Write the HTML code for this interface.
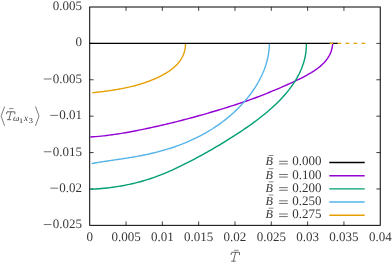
<!DOCTYPE html>
<html><head><meta charset="utf-8"><title>plot</title>
<style>html,body{margin:0;padding:0;background:#fff;}body{width:392px;height:262px;overflow:hidden;font-family:"Liberation Serif",serif;}</style>
</head><body>
<svg width="392" height="262" viewBox="0 0 392 262" style="display:block;will-change:transform">
<rect width="392" height="262" fill="#fff"/>
<g fill="none" stroke="#000" stroke-width="1">
<rect x="89.70" y="7.00" width="290.55" height="218.35"/>
<path stroke-width="0.75" d="M126.02 225.35 v-3.90 M126.02 7.00 v3.90"/>
<path stroke-width="0.75" d="M162.34 225.35 v-3.90 M162.34 7.00 v3.90"/>
<path stroke-width="0.75" d="M198.66 225.35 v-3.90 M198.66 7.00 v3.90"/>
<path stroke-width="0.75" d="M234.98 225.35 v-3.90 M234.98 7.00 v3.90"/>
<path stroke-width="0.75" d="M271.29 225.35 v-3.90 M271.29 7.00 v3.90"/>
<path stroke-width="0.75" d="M307.61 225.35 v-3.90 M307.61 7.00 v3.90"/>
<path stroke-width="0.75" d="M343.93 225.35 v-3.90 M343.93 7.00 v3.90"/>
<path stroke-width="0.75" d="M89.70 43.39 h3.90 M380.25 43.39 h-3.90"/>
<path stroke-width="0.75" d="M89.70 79.78 h3.90 M380.25 79.78 h-3.90"/>
<path stroke-width="0.75" d="M89.70 116.17 h3.90 M380.25 116.17 h-3.90"/>
<path stroke-width="0.75" d="M89.70 152.57 h3.90 M380.25 152.57 h-3.90"/>
<path stroke-width="0.75" d="M89.70 188.96 h3.90 M380.25 188.96 h-3.90"/>
</g>
<g fill="none" stroke-width="1.4" stroke-linejoin="round">
<path d="M90.30 137.00 L93.03 136.82 L95.75 136.62 L98.47 136.38 L101.18 136.12 L103.90 135.83 L106.60 135.51 L109.31 135.17 L112.01 134.81 L114.71 134.42 L117.40 134.02 L120.09 133.59 L122.78 133.15 L125.46 132.69 L128.14 132.21 L130.82 131.72 L133.50 131.22 L136.17 130.70 L138.84 130.17 L141.51 129.63 L144.17 129.09 L146.83 128.53 L149.49 127.96 L152.15 127.39 L154.80 126.80 L157.45 126.21 L160.10 125.61 L162.74 125.00 L165.39 124.38 L168.03 123.75 L170.67 123.11 L173.31 122.46 L175.94 121.81 L178.58 121.14 L181.21 120.47 L183.84 119.79 L186.47 119.10 L189.09 118.41 L191.72 117.70 L194.34 116.99 L196.96 116.27 L199.58 115.54 L202.20 114.80 L204.82 114.05 L207.43 113.30 L210.05 112.54 L212.66 111.77 L215.27 110.99 L217.89 110.21 L220.50 109.42 L223.11 108.62 L225.72 107.81 L228.32 107.00 L230.93 106.17 L233.53 105.34 L236.13 104.49 L238.73 103.63 L241.32 102.77 L243.91 101.88 L246.50 100.99 L249.08 100.08 L251.66 99.16 L254.23 98.22 L256.80 97.26 L259.36 96.29 L261.92 95.31 L264.47 94.30 L267.01 93.29 L269.55 92.26 L272.08 91.21 L274.61 90.16 L277.12 89.09 L279.63 88.02 L282.13 86.93 L284.61 85.84 L287.10 84.74 L289.57 83.64 L292.03 82.52 L294.48 81.39 L296.92 80.24 L299.35 79.06 L301.77 77.85 L304.18 76.60 L306.57 75.32 L308.96 73.98 L311.32 72.60 L313.64 71.15 L315.90 69.63 L318.10 68.04 L320.20 66.37 L322.20 64.60 L324.07 62.73 L325.81 60.76 L327.39 58.68 L328.80 56.48 L330.03 54.14 L331.04 51.68 L331.84 49.06 L332.40 46.30 L332.70 43.38" stroke="#9400D3"/>
<path d="M90.30 189.30 L93.16 189.15 L96.01 188.97 L98.85 188.76 L101.68 188.52 L104.50 188.25 L107.31 187.95 L110.11 187.62 L112.89 187.25 L115.67 186.86 L118.43 186.43 L121.19 185.96 L123.93 185.46 L126.67 184.93 L129.39 184.36 L132.11 183.76 L134.81 183.12 L137.51 182.44 L140.19 181.73 L142.87 180.98 L145.53 180.19 L148.19 179.37 L150.83 178.51 L153.47 177.60 L156.10 176.66 L158.71 175.68 L161.32 174.67 L163.92 173.62 L166.51 172.54 L169.09 171.43 L171.66 170.28 L174.22 169.12 L176.78 167.92 L179.32 166.71 L181.86 165.47 L184.39 164.21 L186.91 162.94 L189.42 161.65 L191.92 160.34 L194.41 159.02 L196.90 157.70 L199.38 156.36 L201.84 155.02 L204.31 153.66 L206.76 152.29 L209.20 150.91 L211.64 149.52 L214.07 148.12 L216.49 146.71 L218.91 145.29 L221.31 143.85 L223.71 142.40 L226.11 140.93 L228.49 139.45 L230.87 137.96 L233.24 136.46 L235.60 134.94 L237.96 133.40 L240.31 131.85 L242.65 130.28 L244.98 128.69 L247.30 127.09 L249.61 125.47 L251.91 123.83 L254.19 122.16 L256.46 120.48 L258.71 118.77 L260.93 117.04 L263.14 115.28 L265.33 113.49 L267.49 111.68 L269.62 109.84 L271.73 107.97 L273.80 106.07 L275.85 104.14 L277.87 102.18 L279.85 100.18 L281.79 98.15 L283.69 96.08 L285.54 93.98 L287.33 91.84 L289.08 89.66 L290.77 87.44 L292.39 85.18 L293.95 82.87 L295.44 80.53 L296.85 78.14 L298.19 75.71 L299.44 73.24 L300.61 70.73 L301.68 68.17 L302.65 65.58 L303.53 62.94 L304.29 60.27 L304.95 57.55 L305.49 54.79 L305.91 52.00 L306.20 49.16 L306.37 46.29 L306.40 43.38" stroke="#009E73"/>
<path d="M91.60 163.60 L93.90 163.19 L96.21 162.79 L98.52 162.40 L100.84 162.02 L103.16 161.66 L105.49 161.30 L107.82 160.94 L110.15 160.60 L112.48 160.25 L114.82 159.91 L117.16 159.56 L119.50 159.22 L121.84 158.87 L124.18 158.51 L126.52 158.15 L128.86 157.78 L131.20 157.39 L133.53 157.00 L135.87 156.60 L138.20 156.17 L140.53 155.74 L142.86 155.28 L145.18 154.80 L147.50 154.31 L149.82 153.80 L152.13 153.26 L154.43 152.71 L156.73 152.13 L159.02 151.54 L161.30 150.92 L163.58 150.28 L165.85 149.62 L168.11 148.93 L170.37 148.22 L172.61 147.49 L174.84 146.73 L177.07 145.95 L179.28 145.14 L181.49 144.30 L183.68 143.44 L185.86 142.55 L188.03 141.64 L190.19 140.70 L192.33 139.73 L194.46 138.73 L196.57 137.71 L198.68 136.66 L200.76 135.58 L202.83 134.47 L204.89 133.33 L206.93 132.17 L208.95 130.97 L210.96 129.75 L212.95 128.50 L214.92 127.21 L216.87 125.90 L218.80 124.56 L220.72 123.19 L222.61 121.79 L224.49 120.36 L226.34 118.89 L228.17 117.40 L229.99 115.87 L231.77 114.32 L233.54 112.73 L235.28 111.12 L236.99 109.47 L238.68 107.80 L240.34 106.09 L241.96 104.36 L243.56 102.60 L245.12 100.81 L246.65 99.00 L248.14 97.16 L249.60 95.29 L251.02 93.39 L252.39 91.47 L253.73 89.52 L255.03 87.55 L256.28 85.55 L257.49 83.53 L258.65 81.49 L259.76 79.42 L260.83 77.32 L261.84 75.21 L262.80 73.07 L263.71 70.91 L264.55 68.73 L265.34 66.52 L266.06 64.30 L266.72 62.05 L267.32 59.79 L267.84 57.50 L268.29 55.19 L268.67 52.87 L268.97 50.52 L269.20 48.16 L269.34 45.78 L269.40 43.38" stroke="#56B4E9"/>
<path d="M92.30 92.70 L93.42 92.59 L94.55 92.47 L95.67 92.35 L96.80 92.23 L97.93 92.10 L99.06 91.98 L100.20 91.85 L101.33 91.71 L102.47 91.58 L103.61 91.44 L104.75 91.29 L105.89 91.15 L107.03 91.00 L108.17 90.84 L109.32 90.68 L110.46 90.52 L111.61 90.35 L112.75 90.18 L113.90 90.00 L115.04 89.81 L116.19 89.63 L117.33 89.43 L118.48 89.23 L119.62 89.03 L120.77 88.82 L121.91 88.60 L123.05 88.38 L124.20 88.15 L125.34 87.92 L126.48 87.67 L127.62 87.43 L128.75 87.17 L129.89 86.91 L131.02 86.64 L132.15 86.36 L133.29 86.08 L134.41 85.79 L135.54 85.49 L136.66 85.18 L137.79 84.86 L138.90 84.54 L140.02 84.21 L141.13 83.87 L142.25 83.52 L143.35 83.16 L144.46 82.79 L145.56 82.41 L146.66 82.03 L147.75 81.63 L148.84 81.23 L149.93 80.81 L151.01 80.39 L152.09 79.96 L153.17 79.51 L154.24 79.05 L155.30 78.59 L156.36 78.11 L157.42 77.63 L158.47 77.13 L159.52 76.62 L160.56 76.10 L161.60 75.56 L162.63 75.02 L163.65 74.46 L164.66 73.89 L165.66 73.31 L166.65 72.71 L167.63 72.09 L168.59 71.47 L169.54 70.82 L170.47 70.16 L171.39 69.49 L172.28 68.79 L173.16 68.08 L174.02 67.35 L174.85 66.60 L175.67 65.84 L176.45 65.05 L177.22 64.24 L177.96 63.42 L178.67 62.57 L179.35 61.70 L180.00 60.81 L180.62 59.89 L181.21 58.96 L181.77 58.00 L182.29 57.02 L182.78 56.01 L183.23 54.99 L183.64 53.94 L184.02 52.86 L184.36 51.76 L184.65 50.64 L184.90 49.49 L185.11 48.32 L185.28 47.12 L185.40 45.90 L185.47 44.65 L185.50 43.38" stroke="#E69F00"/>
<path d="M89.70 43.38 H338.00" stroke="#000"/>
<path d="M329.6 43.38 H366" stroke="#E69F00" stroke-dasharray="3.6 4.4"/>
</g>
<g fill="none" stroke-width="1.4">
<path d="M329.3 162.50 H364.7" stroke="#000"/>
<path d="M329.3 175.68 H364.7" stroke="#9400D3"/>
<path d="M329.3 188.85 H364.7" stroke="#009E73"/>
<path d="M329.3 202.03 H364.7" stroke="#56B4E9"/>
<path d="M329.3 215.20 H364.7" stroke="#E69F00"/>
</g>
<g font-family="'Liberation Serif', serif" font-size="13" fill="#000" opacity="0.8" text-rendering="geometricPrecision">
<text x="89.70" y="241.3" text-anchor="middle">0</text>
<text x="126.02" y="241.3" text-anchor="middle">0.005</text>
<text x="162.34" y="241.3" text-anchor="middle">0.01</text>
<text x="198.66" y="241.3" text-anchor="middle">0.015</text>
<text x="234.98" y="241.3" text-anchor="middle">0.02</text>
<text x="271.29" y="241.3" text-anchor="middle">0.025</text>
<text x="307.61" y="241.3" text-anchor="middle">0.03</text>
<text x="343.93" y="241.3" text-anchor="middle">0.035</text>
<text x="380.25" y="241.3" text-anchor="middle">0.04</text>
<text x="82" y="10.00" text-anchor="end">0.005</text>
<text x="82" y="46.39" text-anchor="end">0</text>
<text x="82" y="82.78" text-anchor="end">0.005</text>
<path d="M43.75 78.98 H51.55" stroke="#000" stroke-width="0.7"/>
<text x="82" y="119.17" text-anchor="end">0.01</text>
<path d="M50.25 115.38 H58.05" stroke="#000" stroke-width="0.7"/>
<text x="82" y="155.57" text-anchor="end">0.015</text>
<path d="M43.75 151.77 H51.55" stroke="#000" stroke-width="0.7"/>
<text x="82" y="191.96" text-anchor="end">0.02</text>
<path d="M50.25 188.16 H58.05" stroke="#000" stroke-width="0.7"/>
<text x="82" y="228.35" text-anchor="end">0.025</text>
<path d="M43.75 224.55 H51.55" stroke="#000" stroke-width="0.7"/>
<text x="321.4" y="165.40" text-anchor="end">0.000</text>
<path d="M279.1 161.30 H287.8 M279.1 163.90 H287.8" stroke="#000" stroke-width="0.7"/>
<text x="265.6" y="165.40" font-size="12.2" font-style="italic">B</text>
<path d="M268.6 155.50 H273.4" stroke="#000" stroke-width="0.6"/>
<text x="321.4" y="178.58" text-anchor="end">0.100</text>
<path d="M279.1 174.48 H287.8 M279.1 177.08 H287.8" stroke="#000" stroke-width="0.7"/>
<text x="265.6" y="178.58" font-size="12.2" font-style="italic">B</text>
<path d="M268.6 168.68 H273.4" stroke="#000" stroke-width="0.6"/>
<text x="321.4" y="191.75" text-anchor="end">0.200</text>
<path d="M279.1 187.65 H287.8 M279.1 190.25 H287.8" stroke="#000" stroke-width="0.7"/>
<text x="265.6" y="191.75" font-size="12.2" font-style="italic">B</text>
<path d="M268.6 181.85 H273.4" stroke="#000" stroke-width="0.6"/>
<text x="321.4" y="204.93" text-anchor="end">0.250</text>
<path d="M279.1 200.83 H287.8 M279.1 203.43 H287.8" stroke="#000" stroke-width="0.7"/>
<text x="265.6" y="204.93" font-size="12.2" font-style="italic">B</text>
<path d="M268.6 195.03 H273.4" stroke="#000" stroke-width="0.6"/>
<text x="321.4" y="218.10" text-anchor="end">0.275</text>
<path d="M279.1 214.00 H287.8 M279.1 216.60 H287.8" stroke="#000" stroke-width="0.7"/>
<text x="265.6" y="218.10" font-size="12.2" font-style="italic">B</text>
<path d="M268.6 208.20 H273.4" stroke="#000" stroke-width="0.6"/>
<path d="M230.9 255 L231.8 252.3 H239.4 L239.6 255.1 M235.6 252.3 L233.4 261.1 M231.2 261.2 H235.7" fill="none" stroke="#000" stroke-width="0.75"/>
<path d="M234.1 250.3 H238.5" stroke="#000" stroke-width="0.6"/>
<path d="M4.6 106.5 L1.1 116.1 L4.6 125.8" fill="none" stroke="#000" stroke-width="0.65"/>
<path d="M35.5 106.5 L39.0 116.1 L35.5 125.8" fill="none" stroke="#000" stroke-width="0.65"/>
<path d="M6.4 114.1 L7.0 111.8 H14.8 L14.95 114.2 M11.0 111.8 L8.9 119.6 M7.0 119.7 H11.1" fill="none" stroke="#000" stroke-width="0.75"/>
<path d="M9.2 108.6 H13.5" stroke="#000" stroke-width="0.6"/>
<text x="13.1" y="121.3" font-size="9.2" font-style="italic">ω</text>
<text transform="translate(18.7 123.2) scale(1.3 1)" font-size="7">1</text>
<text x="23.9" y="121.3" font-size="9.2" font-style="italic">x</text>
<text transform="translate(28.5 123.3) scale(1.3 1)" font-size="7">3</text>
</g>
</svg>
</body></html>
